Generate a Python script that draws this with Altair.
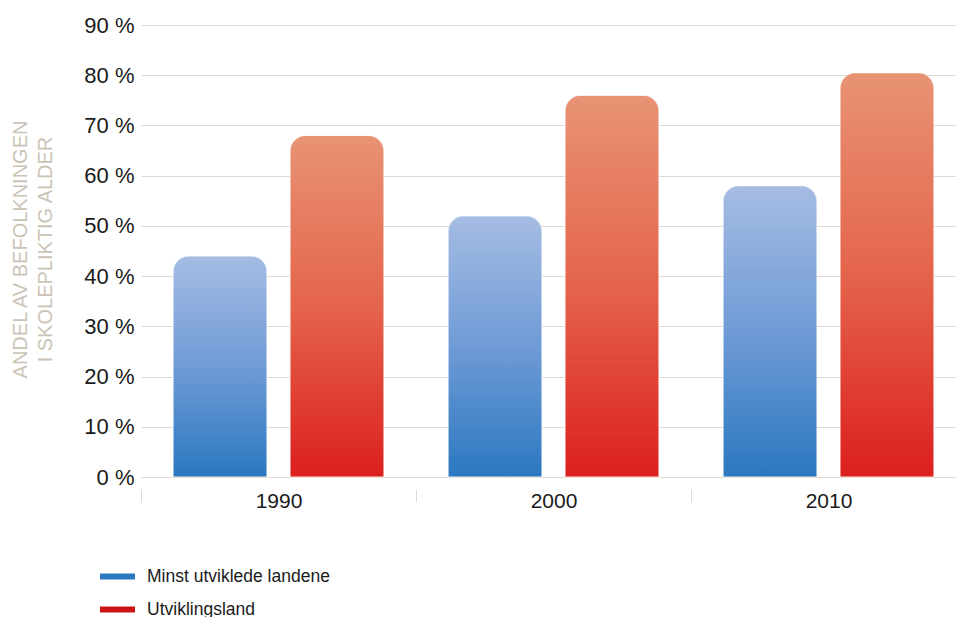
import altair as alt
import pandas as pd

years = ["1990", "2000", "2010"]
series = ["Minst utviklede landene", "Utviklingsland"]
minst = [44, 52, 58]
utvikling = [68, 76, 80.5]
y_ticks = [0, 10, 20, 30, 40, 50, 60, 70, 80, 90]

rows = []
for i, yr in enumerate(years):
    rows.append({"year": yr, "series": series[0], "value": minst[i]})
    rows.append({"year": yr, "series": series[1], "value": utvikling[i]})
df = pd.DataFrame(rows)

FONT = "Liberation Sans Narrow, Liberation Sans, Arial"
GRID = "#e2dace"

blue_grad = alt.Gradient(
    gradient="linear", x1=0, x2=0, y1=0, y2=1,
    stops=[alt.GradientStop(color="#a6bce3", offset=0),
           alt.GradientStop(color="#6f9bd6", offset=0.5),
           alt.GradientStop(color="#2b78c0", offset=1)])
red_grad = alt.Gradient(
    gradient="linear", x1=0, x2=0, y1=0, y2=1,
    stops=[alt.GradientStop(color="#e89375", offset=0),
           alt.GradientStop(color="#e4644b", offset=0.5),
           alt.GradientStop(color="#dc1f1f", offset=1)])

x_enc = alt.X("year:N", sort=years,
              scale=alt.Scale(paddingInner=0, paddingOuter=0, range=[0, 825]),
              axis=alt.Axis(title=None, labelAngle=0, domain=False, tickBand="extent",
                            ticks=True, tickSize=13, tickColor=GRID, offset=12,
                            labelPadding=-12, labelFont=FONT, labelFontSize=21,
                            labelColor="#1a1a1a", labelBaseline="top", grid=False))
xoff = alt.XOffset("series:N", sort=series,
                   scale=alt.Scale(domain=series, paddingInner=0.197, paddingOuter=0.274))
y_enc = alt.Y("value:Q",
              scale=alt.Scale(domain=[0, 90], nice=False),
              axis=alt.Axis(values=y_ticks, labelExpr="datum.value + ' %'",
                            title=["ANDEL AV BEFOLKNINGEN", "I SKOLEPLIKTIG ALDER"],
                            titleFont=FONT, titleFontSize=20, titleFontWeight="normal",
                            titleColor="#cbc3b6", titleLineHeight=25,
                            titleAngle=270, titleAlign="center", titleBaseline="top",
                            titleX=-131, titleY=224,
                            labelFont=FONT, labelFontSize=22, labelColor="#1a1a1a",
                            labelPadding=7, ticks=False, domain=False,
                            grid=True, gridColor=GRID, gridWidth=1))

base = alt.Chart(df)

blue = base.transform_filter(alt.datum.series == series[0]).mark_bar(
    color=blue_grad, cornerRadiusTopLeft=16, cornerRadiusTopRight=16,
    stroke="#ffffff", strokeOpacity=0.5, strokeWidth=1
).encode(x=x_enc, xOffset=xoff, y=y_enc)

red = base.transform_filter(alt.datum.series == series[1]).mark_bar(
    color=red_grad, cornerRadiusTopLeft=16, cornerRadiusTopRight=16,
    stroke="#ffffff", strokeOpacity=0.5, strokeWidth=1
).encode(x=x_enc, xOffset=xoff, y=y_enc)

legend_layer = base.mark_point(opacity=0).encode(
    x=x_enc, xOffset=xoff, y=y_enc,
    color=alt.Color("series:N", sort=series,
                    scale=alt.Scale(domain=series, range=["#2b78c0", "#cc1414"]),
                    legend=alt.Legend(orient="none", legendX=-44, legendY=531,
                                      title=None, symbolType="stroke",
                                      symbolStrokeWidth=6, symbolSize=1225,
                                      symbolOpacity=1, labelFont="Liberation Sans",
                                      labelFontSize=17.5, labelColor="#1a1a1a",
                                      labelOffset=9, rowPadding=-8, labelLimit=400,
                                      symbolLimit=0))
)

chart = alt.layer(blue, red, legend_layer).properties(
    width=815, height=452,
    autosize=alt.AutoSizeParams(type="none"),
    padding={"left": 133, "top": 17, "right": 0, "bottom": 140},
    background="white"
).configure_view(stroke=None)

chart.save("out.html", embed_options={"renderer": "svg", "actions": False})
